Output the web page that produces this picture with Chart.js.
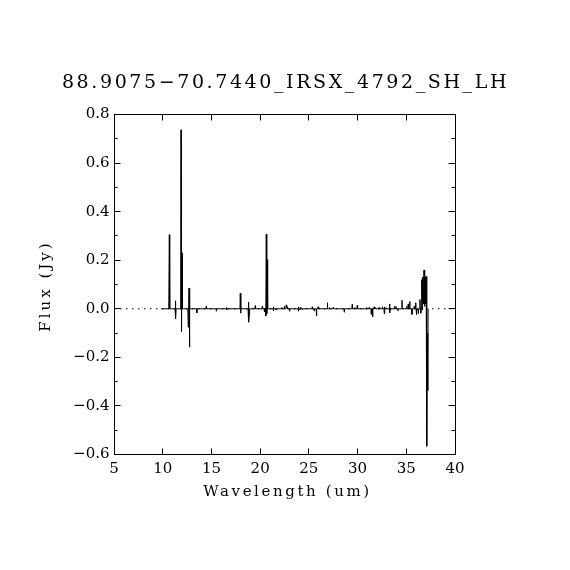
<!DOCTYPE html>
<html>
<head>
<meta charset="utf-8">
<script src="https://cdn.jsdelivr.net/npm/chart.js@4.4.1/dist/chart.umd.min.js"></script>
<style>
  html, body { margin: 0; padding: 0; background: #fff; }
  canvas { display: block; }
</style>
</head>
<body>
<canvas id="spectrum-chart" width="570" height="570"></canvas>
<script>
'use strict';

var titleText = '88.9075\u221270.7440_IRSX_4792_SH_LH';
var xLabel = 'Wavelength (um)';
var yLabel = 'Flux (Jy)';

var xTicks = [5, 10, 15, 20, 25, 30, 35, 40];
var yTicks = [-0.6, -0.4, -0.2, 0.0, 0.2, 0.4, 0.6, 0.8];

// spectrum (um, Jy) - rows of 10 line up between the two arrays
var wavelength = [
    9.85, 10.62, 10.68, 10.72, 11.27, 11.30, 11.34, 11.37, 11.84, 11.88,
    11.93, 11.98, 12.02, 12.58, 12.62, 12.66, 12.70, 12.75, 12.78, 13.47,
    13.50, 13.53, 14.44, 14.47, 14.50, 15.47, 15.50, 15.53, 16.52, 16.55,
    16.58, 16.61, 17.93, 17.96, 18.00, 18.03, 18.76, 18.79, 18.84, 18.89,
    18.92, 19.47, 19.50, 19.53, 20.19, 20.22, 20.25, 20.40, 20.43, 20.46,
    20.55, 20.58, 20.63, 20.68, 20.73, 20.77, 21.32, 21.35, 21.38, 21.41,
    21.60, 21.63, 21.66, 22.17, 22.20, 22.23, 22.45, 22.48, 22.51, 22.65,
    22.68, 22.72, 22.76, 22.80, 23.00, 23.03, 23.06, 23.90, 23.93, 23.96,
    24.00, 24.03, 24.13, 24.16, 24.19, 24.30, 24.33, 24.36, 25.32, 25.35,
    25.38, 25.50, 25.53, 25.56, 25.74, 25.77, 25.80, 25.83, 25.92, 25.95,
    25.98, 26.05, 26.08, 26.11, 26.87, 26.90, 26.93, 27.07, 27.10, 27.13,
    27.47, 27.50, 27.53, 28.60, 28.63, 28.66, 29.42, 29.45, 29.48, 29.70,
    29.73, 29.76, 29.94, 29.97, 30.00, 30.90, 30.93, 30.96, 31.17, 31.20,
    31.23, 31.37, 31.40, 31.43, 31.52, 31.55, 31.58, 31.67, 31.70, 31.73,
    31.77, 31.80, 31.83, 32.14, 32.17, 32.20, 32.27, 32.30, 32.33, 32.51,
    32.54, 32.57, 32.71, 32.74, 32.77, 32.80, 32.92, 32.95, 32.98, 33.25,
    33.28, 33.32, 33.35, 33.74, 33.77, 33.80, 33.91, 33.94, 33.97, 34.12,
    34.15, 34.18, 34.53, 34.56, 34.59, 35.01, 35.04, 35.07, 35.17, 35.20,
    35.23, 35.32, 35.35, 35.38, 35.55, 35.58, 35.61, 35.79, 35.82, 35.85,
    35.94, 35.97, 36.00, 36.04, 36.07, 36.10, 36.21, 36.24, 36.27, 36.37,
    36.40, 36.43, 36.47, 36.50, 36.53, 36.56, 36.60, 36.63, 36.66, 36.69,
    36.72, 36.75, 36.78, 36.82, 36.85, 36.89, 36.92, 36.96, 37.00, 37.04,
    37.08, 37.12, 37.16, 37.20, 37.24
];
var flux = [
    0, 0, 0.305, 0, 0, 0.033, -0.042, 0, 0, 0.737,
    -0.093, 0.230, 0, 0, -0.076, 0, 0.085, -0.158, 0, 0,
    -0.017, 0, 0, 0.010, 0, 0, -0.010, 0, 0, 0.005,
    -0.004, 0, 0, 0.064, -0.018, 0, 0, 0.027, -0.055, -0.027,
    0, 0, 0.013, 0, 0, 0.010, 0, 0, -0.013, 0,
    0, -0.030, 0.307, -0.020, 0.202, 0, 0, 0.008, -0.008, 0,
    0, -0.005, 0, 0, 0.005, 0, 0, 0.010, 0, 0,
    0.016, 0.004, 0.008, 0, 0, -0.010, 0, 0, -0.010, 0.008,
    -0.004, 0, 0, 0.006, 0, 0, -0.004, 0, 0, 0.008,
    0, 0, -0.008, 0, 0, -0.030, -0.010, 0, 0, 0.008,
    0, 0, 0.004, 0, 0, 0.025, 0, 0, 0.005, 0,
    0, 0.006, 0, 0, -0.014, 0, 0, 0.018, 0, 0,
    0.005, 0, 0, 0.015, 0, 0, 0.005, 0, 0, 0.005,
    0, 0, -0.023, 0, 0, -0.033, 0, 0, 0.008, 0,
    0, 0.004, 0, 0, 0.005, 0, 0, 0.005, 0, 0,
    0.008, 0, 0, -0.020, 0.008, 0, 0, 0.004, 0, 0,
    0.020, -0.016, 0, 0, 0.010, 0, 0, 0.010, 0, 0,
    -0.008, 0, 0, 0.035, 0, 0, 0.010, 0, 0, 0.020,
    0, 0, 0.030, 0, 0, -0.023, 0, 0, 0.010, 0,
    0, 0.025, 0, 0, -0.023, 0, 0, -0.020, 0, 0,
    0.038, 0, 0, -0.018, 0, 0.020, 0.120, -0.005, 0.130, 0.040,
    0.100, 0.020, 0.100, 0.160, 0.010, 0.100, 0.030, 0.130, 0.020, 0.133,
    -0.023, -0.566, -0.100, -0.337, 0
];

// dotted zero level across the whole frame
var zeroX = [5, 40];
var zeroY = [0, 0];

var serif = '"DejaVu Serif", "Liberation Serif", serif';

function toPoints(xs, ys) {
    return xs.map(function (x, i) { return { x: x, y: ys[i] }; });
}

function fmtY(v) {
    if (Math.abs(v) < 1e-9) return '0.0';
    return v.toFixed(1).replace('-', '\u2212');
}

// PGPLOT-like frame: ticks point inwards on all four sides
function frameAxis(position, min, max, step, tickLen, opts) {
    var horiz = position === 'top' || position === 'bottom';
    var axis = {
        type: 'linear',
        position: position,
        min: min,
        max: max,
        grid: {
            drawOnChartArea: false,
            drawTicks: true,
            tickLength: tickLen,
            tickColor: '#000',
            tickWidth: 1,
        },
        border: { display: true, color: '#000', width: 1 },
        ticks: {
            stepSize: step,
            autoSkip: false,
            maxRotation: 0,
            callback: function () { return ''; },
        },
        afterFit: function (scale) {
            if (horiz) scale.height = 0; else scale.width = 0;
        },
    };
    return Object.assign(axis, opts || {});
}

var textPlugin = {
    id: 'frameText',
    afterDraw: function (chart) {
        var ctx = chart.ctx;
        var area = chart.chartArea;
        ctx.save();
        ctx.fillStyle = '#000';
        ctx.textAlign = 'center';
        ctx.textBaseline = 'middle';

        ctx.font = '19px ' + serif;
        ctx.letterSpacing = '2.6px';
        ctx.fillText(titleText, (area.left + area.right) / 2 + 1, 83);

        ctx.font = '15px ' + serif;
        ctx.letterSpacing = '2.6px';
        ctx.fillText(xLabel, (area.left + area.right) / 2 + 3, 492);

        ctx.letterSpacing = '3px';
        ctx.translate(46, 286);
        ctx.rotate(-Math.PI / 2);
        ctx.fillText(yLabel, 0, 0);
        ctx.restore();
    },
};

var tickFont = { family: serif, size: 15 };

new Chart(document.getElementById('spectrum-chart'), {
    type: 'line',
    data: {
        datasets: [
            {
                data: toPoints(wavelength, flux),
                borderColor: '#000',
                borderWidth: 1,
                pointRadius: 0,
                tension: 0,
                fill: false,
                order: 0,
            },
            {
                data: toPoints(zeroX, zeroY),
                borderColor: '#000',
                borderWidth: 1,
                borderDash: [1.5, 4.5],
                pointRadius: 0,
                fill: false,
                order: 1,
            },
        ],
    },
    options: {
        responsive: false,
        devicePixelRatio: 1,
        animation: false,
        layout: { padding: { left: 0, right: 115, top: 114.5, bottom: 0 } },
        plugins: {
            legend: { display: false },
            tooltip: { enabled: false },
            title: { display: false },
        },
        scales: {
            x: frameAxis('bottom', xTicks[0], xTicks[xTicks.length - 1], 5, -6, {
                ticks: {
                    stepSize: 5,
                    autoSkip: false,
                    maxRotation: 0,
                    padding: 12,
                    color: '#000',
                    font: tickFont,
                },
                afterFit: function (scale) { scale.height = 115.5; },
            }),
            xTop: frameAxis('top', xTicks[0], xTicks[xTicks.length - 1], 5, -6),
            y: frameAxis('left', yTicks[0], yTicks[yTicks.length - 1], 0.2, -6.5, {
                weight: 1,
                ticks: {
                    stepSize: 0.2,
                    autoSkip: false,
                    padding: 11,
                    color: '#000',
                    font: tickFont,
                    callback: function (v) { return fmtY(v); },
                },
                afterFit: function (scale) { scale.width = 114; },
            }),
            yMinor: frameAxis('left', yTicks[0], yTicks[yTicks.length - 1], 0.1, -3.5, {
                weight: 0,
                border: { display: false },
            }),
            yRight: frameAxis('right', yTicks[0], yTicks[yTicks.length - 1], 0.2, -6.5, {
                weight: 1,
            }),
            yRightMinor: frameAxis('right', yTicks[0], yTicks[yTicks.length - 1], 0.1, -3.5, {
                weight: 0,
                border: { display: false },
            }),
        },
    },
    plugins: [textPlugin],
});
</script>
</body>
</html>
